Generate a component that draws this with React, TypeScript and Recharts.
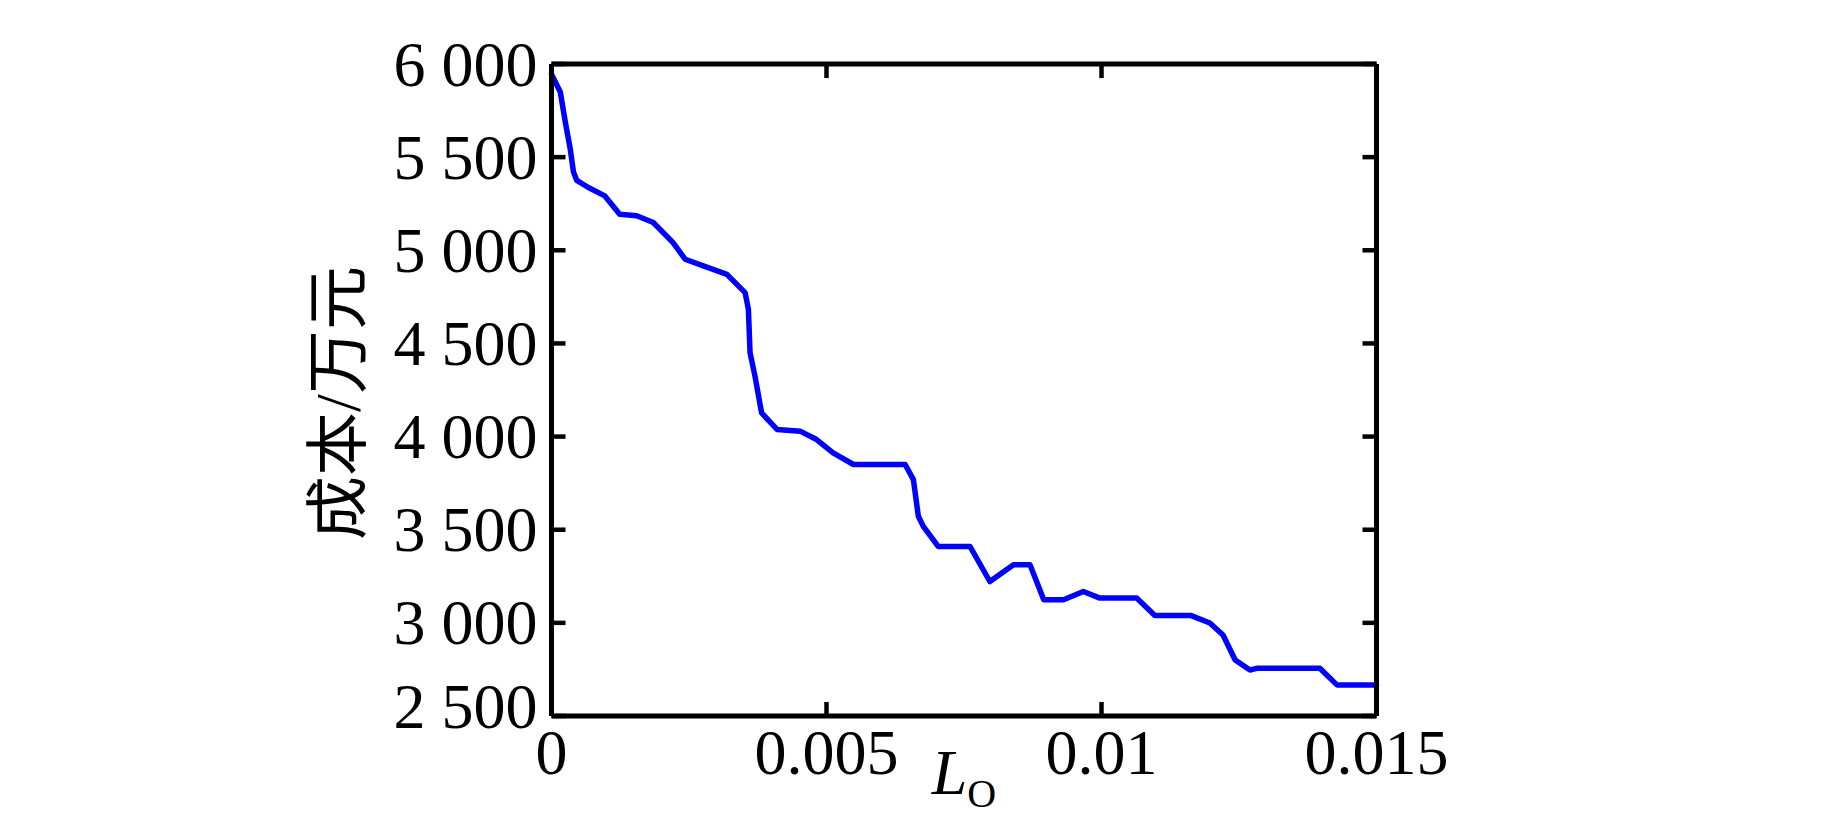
import { LineChart, Line, XAxis, YAxis } from "recharts";

// L_O values (x) and cost in 万元 (y)
const lo = [
  0, 0.00016, 0.00025, 0.00034, 0.0004, 0.00046, 0.00067, 0.00097, 0.00124,
  0.00155, 0.00185, 0.00221, 0.00243, 0.00276, 0.00319, 0.00352, 0.00358,
  0.00361, 0.0037, 0.00382, 0.0041, 0.00452, 0.00482, 0.00512, 0.00549,
  0.00643, 0.00658, 0.00667, 0.00676, 0.00703, 0.00761, 0.00797, 0.0084,
  0.0087, 0.00895, 0.00931, 0.00967, 0.00997, 0.01064, 0.01097, 0.01162,
  0.01197, 0.01221, 0.01243, 0.0127, 0.01282, 0.01397, 0.01428, 0.015,
];
const cost = [
  5945, 5850, 5690, 5545, 5420, 5375, 5337, 5292, 5194, 5185, 5149, 5041,
  4952, 4916, 4871, 4773, 4683, 4450, 4324, 4127, 4038, 4029, 3984, 3912,
  3850, 3850, 3769, 3572, 3518, 3410, 3410, 3222, 3312, 3312, 3124, 3124,
  3168, 3133, 3133, 3040, 3040, 2999, 2935, 2801, 2747, 2756, 2756, 2667,
  2667,
];
const xTicks = [0, 0.005, 0.01, 0.015];
const yTicks = [2500, 3000, 3500, 4000, 4500, 5000, 5500, 6000];
const yLabel = "成本/万元";

const data = lo.map((x, i) => ({ lo: x, cost: cost[i] }));

const FONT = "'Liberation Serif', 'Times New Roman', serif";
const TICK_LEN = 14;
const TICK_W = 4.5;

const fmtCost = (v: number) =>
  `${Math.floor(v / 1000)} ${String(v % 1000).padStart(3, "0")}`;

const LeftTick = (props: any) => {
  const { x, y, payload } = props;
  const ax = x + 14;
  const dy = payload.value === 2500 ? -10 : 0;
  return (
    <g>
      <line x1={ax} x2={ax + TICK_LEN} y1={y} y2={y} stroke="#000" strokeWidth={TICK_W} />
      <text
        x={x}
        y={y + dy}
        textAnchor="end"
        dominantBaseline="central"
        fontFamily={FONT}
        fontSize={64}
        fill="#000"
      >
        {fmtCost(payload.value)}
      </text>
    </g>
  );
};

const RightTick = (props: any) => {
  const { x, y } = props;
  return <line x1={x - TICK_LEN} x2={x} y1={y} y2={y} stroke="#000" strokeWidth={TICK_W} />;
};

const TopTick = (props: any) => {
  const { x, y } = props;
  return <line x1={x} x2={x} y1={y} y2={y + TICK_LEN} stroke="#000" strokeWidth={TICK_W} />;
};

const BottomTick = (props: any) => {
  const { x, y, payload } = props;
  return (
    <g>
      <line x1={x} x2={x} y1={y - TICK_LEN} y2={y} stroke="#000" strokeWidth={TICK_W} />
      <text
        x={x}
        y={y + 36.5}
        textAnchor="middle"
        dominantBaseline="central"
        fontFamily={FONT}
        fontSize={64}
        fill="#000"
      >
        {String(payload.value)}
      </text>
    </g>
  );
};

const XTitle = (props: any) => {
  const vb = props.viewBox;
  const cx = vb.x + vb.width / 2;
  return (
    <text x={cx} y={vb.y + 78} textAnchor="middle" fontFamily={FONT} fontSize={64} fill="#000">
      <tspan fontStyle="italic">L</tspan>
      <tspan fontSize={40} dy={13}>
        O
      </tspan>
    </text>
  );
};

const YTitle = (props: any) => {
  const vb = props.viewBox;
  const cx = vb.x + vb.width - 213.5;
  const cy = vb.y + vb.height / 2 + 13;
  return (
    <text
      x={cx}
      y={cy}
      transform={`rotate(-90, ${cx}, ${cy})`}
      textAnchor="middle"
      dominantBaseline="central"
      fontFamily="'Liberation Serif', 'Noto Sans CJK SC', serif"
      fontSize={64}
      fill="#000"
    >
      {yLabel}
    </text>
  );
};

const axisLine = { stroke: "#000", strokeWidth: 5 };

export default function App() {
  return (
    <div style={{ position: "absolute", left: 0, top: 0, background: "#fff" }}>
      <LineChart
        width={1843}
        height={817}
        data={data}
        margin={{ top: 54, right: 456.5, bottom: 41, left: 351.5 }}
      >
        <XAxis
          dataKey="lo"
          type="number"
          domain={[0, 0.015]}
          ticks={xTicks}
          height={60}
          axisLine={axisLine}
          tickLine={false}
          tickSize={0}
          tickMargin={0}
          tick={<BottomTick />}
          interval={0}
          label={{ content: <XTitle /> }}
        />
        <XAxis
          xAxisId="top"
          orientation="top"
          dataKey="lo"
          type="number"
          domain={[0, 0.015]}
          ticks={xTicks}
          height={10}
          axisLine={axisLine}
          tickLine={false}
          tickSize={0}
          tickMargin={0}
          tick={<TopTick />}
          interval={0}
        />
        <YAxis
          dataKey="cost"
          type="number"
          domain={[2500, 6000]}
          ticks={yTicks}
          width={200}
          axisLine={axisLine}
          tickLine={false}
          tickSize={0}
          tickMargin={14}
          tick={<LeftTick />}
          interval={0}
          label={{ content: <YTitle /> }}
        />
        <YAxis
          yAxisId="right"
          orientation="right"
          dataKey="cost"
          type="number"
          domain={[2500, 6000]}
          ticks={yTicks}
          width={10}
          axisLine={axisLine}
          tickLine={false}
          tickSize={0}
          tickMargin={0}
          tick={<RightTick />}
          interval={0}
        />
        <Line
          dataKey="cost"
          type="linear"
          stroke="#0000ff"
          strokeWidth={5.5}
          strokeLinejoin="round"
          strokeLinecap="round"
          dot={false}
          isAnimationActive={false}
        />
      </LineChart>
    </div>
  );
}
